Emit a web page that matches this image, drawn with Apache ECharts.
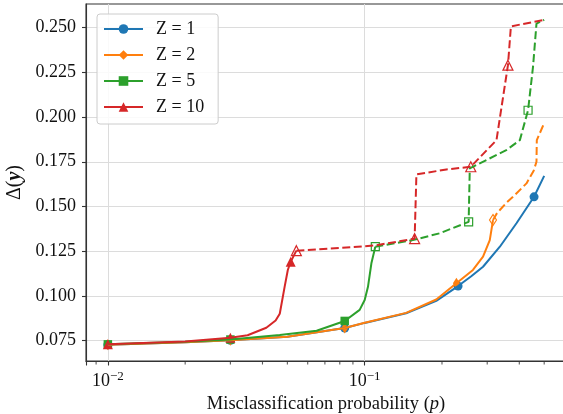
<!DOCTYPE html>
<html>
<head>
<meta charset="utf-8">
<script src="https://cdn.jsdelivr.net/npm/echarts@6/dist/echarts.min.js"></script>
<style>
  html, body { margin: 0; padding: 0; background: #fff; }
  #chart { width: 563px; height: 414px; }
</style>
</head>
<body>
<div id="chart"></div>
<script>
// axis ranges and tick values
var X_MIN = 0.00822, X_MAX = 0.608;
var Y_MIN = 0.0636, Y_MAX = 0.2632;
var Y_TICKS = [0.075, 0.100, 0.125, 0.150, 0.175, 0.200, 0.225, 0.250];
var X_MINOR = [0.009, 0.02, 0.03, 0.04, 0.05, 0.06, 0.07, 0.08, 0.09,
               0.2, 0.3, 0.4, 0.5, 0.6];

var names = ['Z = 1', 'Z = 2', 'Z = 5', 'Z = 10'];
var colors = ['#1f77b4', '#ff7f0e', '#2ca02c', '#d62728'];

// Z = 1
var p1 = [0.01, 0.02, 0.03, 0.05, 0.0836, 0.1, 0.145, 0.19, 0.231, 0.26, 0.289, 0.336, 0.39, 0.4566, 0.5];
var d1 = [0.0727, 0.0741, 0.0752, 0.0772, 0.0820, 0.0849, 0.0903, 0.0972, 0.1055, 0.1110, 0.1163, 0.1275, 0.1406, 0.1554, 0.1671];
var p1dash = [];
var d1dash = [];
var p1mk = [0.01, 0.03, 0.0836, 0.231, 0.4566];
var d1mk = [0.0727, 0.0752, 0.0820, 0.1055, 0.1554];
var p1open = [];
var d1open = [];

// Z = 2
var p2 = [0.01, 0.02, 0.03, 0.05, 0.0836, 0.1, 0.145, 0.19, 0.2276, 0.264, 0.289, 0.307, 0.316];
var d2 = [0.0727, 0.0741, 0.0752, 0.0772, 0.0820, 0.0850, 0.0905, 0.0980, 0.1071, 0.1145, 0.1219, 0.1312, 0.1424];
var p2dash = [0.316, 0.326, 0.336, 0.356, 0.378, 0.4266, 0.455, 0.4666, 0.468, 0.5];
var d2dash = [0.1424, 0.1458, 0.1480, 0.1520, 0.1554, 0.1629, 0.1700, 0.1750, 0.1871, 0.1966];
var p2mk = [0.01, 0.03, 0.0836, 0.2276];
var d2mk = [0.0727, 0.0752, 0.0820, 0.1071];
var p2open = [0.316];
var d2open = [0.1424];

// Z = 5
var p3 = [0.01, 0.02, 0.03, 0.0467, 0.065, 0.0836, 0.0956, 0.1, 0.103, 0.1062, 0.110];
var d3 = [0.0729, 0.0743, 0.0756, 0.0782, 0.0805, 0.0860, 0.0922, 0.0977, 0.1051, 0.1182, 0.1275];
var p3dash = [0.110, 0.154, 0.196, 0.254, 0.2566, 0.2806, 0.356, 0.402, 0.4327, 0.4523, 0.4666, 0.5];
var d3dash = [0.1275, 0.1312, 0.1350, 0.1414, 0.1713, 0.1741, 0.1815, 0.1871, 0.2038, 0.2280, 0.2522, 0.2543];
var p3mk = [0.01, 0.03, 0.0836];
var d3mk = [0.0729, 0.0756, 0.0860];
var p3open = [0.110, 0.254, 0.4327];
var d3open = [0.1275, 0.1414, 0.2038];

// Z = 10
var p4 = [0.01, 0.02, 0.03, 0.035, 0.0414, 0.045, 0.0467, 0.0488, 0.0502, 0.0515, 0.0542];
var d4 = [0.0729, 0.0745, 0.0766, 0.0780, 0.0822, 0.0862, 0.0900, 0.1052, 0.1145, 0.1191, 0.1253];
var p4dash = [0.0542, 0.08, 0.110, 0.1565, 0.159, 0.159, 0.208, 0.2589, 0.326, 0.3613, 0.371, 0.5];
var d4dash = [0.1253, 0.1268, 0.1282, 0.1320, 0.1322, 0.1679, 0.1707, 0.1722, 0.1871, 0.2290, 0.2507, 0.2543];
var p4mk = [0.01, 0.03, 0.0515];
var d4mk = [0.0729, 0.0766, 0.1191];
var p4open = [0.0542, 0.1565, 0.2589, 0.3613];
var d4open = [0.1253, 0.1320, 0.1722, 0.2290];

var FONT = 'Liberation Serif';
var TXT = '#111';
var AXIS = '#333';
var GRID = '#dcdcdc';

function pairs(xs, ys) {
    return xs.map(function (x, i) { return [x, ys[i]]; });
}

var symbols = ['circle', 'path://M0,-10L6,0L0,10L-6,0Z', 'rect', 'triangle'];
var symSizes = [9, [7, 11], 8.5, 10];
var openSizes = [9, [7, 11], 8, 10];

var allP = [p1, p2, p3, p4], allD = [d1, d2, d3, d4];
var allPd = [p1dash, p2dash, p3dash, p4dash], allDd = [d1dash, d2dash, d3dash, d4dash];
var allPm = [p1mk, p2mk, p3mk, p4mk], allDm = [d1mk, d2mk, d3mk, d4mk];
var allPo = [p1open, p2open, p3open, p4open], allDo = [d1open, d2open, d3open, d4open];

var series = [];
for (var k = 0; k < 4; k++) {
    var c = colors[k];
    series.push({
        name: names[k], type: 'line', data: pairs(allP[k], allD[k]),
        symbol: symbols[k], symbolSize: 9, showSymbol: false, symbolKeepAspect: true,
        itemStyle: { color: c },
        lineStyle: { color: c, width: 2 },
        animation: false
    });
    if (allPd[k].length) {
        series.push({
            name: names[k] + ' dashed', type: 'line', data: pairs(allPd[k], allDd[k]),
            showSymbol: false, symbol: 'none',
            lineStyle: { color: c, width: 2, type: [8, 3.5] },
            animation: false
        });
    }
    series.push({
        name: names[k] + ' markers', type: 'scatter', data: pairs(allPm[k], allDm[k]),
        symbol: symbols[k], symbolSize: symSizes[k],
        itemStyle: { color: c, opacity: 1 },
        animation: false
    });
    if (allPo[k].length) {
        series.push({
            name: names[k] + ' open', type: 'scatter', data: pairs(allPo[k], allDo[k]),
            symbol: symbols[k], symbolSize: openSizes[k],
            itemStyle: { color: 'rgba(255,255,255,0)', borderColor: c, borderWidth: 1.2, opacity: 1 },
            animation: false
        });
    }
}

// minor ticks of the log axis
series.push({
    name: 'minor ticks', type: 'scatter',
    data: X_MINOR.map(function (v) { return [v, Y_MIN]; }),
    symbol: 'rect', symbolSize: [1.1, 3], symbolOffset: [0, 2],
    itemStyle: { color: AXIS }, clip: false, silent: true, animation: false
});

var chart = echarts.init(document.getElementById('chart'), null, { renderer: 'canvas' });
chart.setOption({
    backgroundColor: '#fff',
    animation: false,
    grid: {
        left: 86, top: 4, width: 480, height: 357,
        show: true, borderColor: AXIS, borderWidth: 1.1, backgroundColor: 'transparent',
        outerBoundsMode: 'none'
    },
    legend: {
        data: names,
        orient: 'vertical', left: 97, top: 14,
        itemWidth: 39, itemHeight: 12, itemGap: 6,
        padding: [5, 14, 7, 6],
        backgroundColor: 'rgba(255,255,255,0.85)',
        borderColor: '#cccccc', borderWidth: 1, borderRadius: 3,
        textStyle: { fontFamily: FONT, fontSize: 18, color: TXT, lineHeight: 20, padding: [0, 0, 0, 8] },
        selectedMode: false
    },
    xAxis: {
        type: 'log', logBase: 10, min: X_MIN, max: X_MAX,
        axisLine: { show: true, lineStyle: { color: AXIS, width: 1.1 } },
        axisTick: { show: true, length: 4.5, lineStyle: { color: AXIS, width: 1.1 } },
        minorTick: { show: false },
        splitLine: { show: true, lineStyle: { color: GRID, width: 1 } },
        axisLabel: {
            margin: 9, color: TXT, fontFamily: FONT,
            showMinLabel: true, showMaxLabel: true,
            formatter: function (v) {
                var e = Math.log10(v), r = Math.round(e);
                if (Math.abs(e - r) > 1e-6) return '';
                return '{b|10}{s|' + (r < 0 ? '\u2212' : '') + Math.abs(r) + '}';
            },
            rich: {
                b: { fontFamily: FONT, fontSize: 18, lineHeight: 22, color: TXT },
                s: { fontFamily: FONT, fontSize: 13, lineHeight: 13, verticalAlign: 'top', color: TXT }
            }
        },
        name: 'Misclassification probability ({i|p})',
        nameLocation: 'middle', nameGap: 30,
        nameTextStyle: {
            fontFamily: FONT, fontSize: 18.5, color: TXT,
            rich: { i: { fontFamily: FONT, fontSize: 18.5, fontStyle: 'italic', color: TXT } }
        }
    },
    yAxis: {
        type: 'value', min: Y_MIN, max: Y_MAX,
        axisLine: { show: true, lineStyle: { color: AXIS, width: 1.1 } },
        axisTick: { show: true, length: 4, customValues: Y_TICKS, lineStyle: { color: AXIS, width: 1.1 } },
        splitLine: { show: true, lineStyle: { color: GRID, width: 1 } },
        axisLabel: {
            customValues: Y_TICKS, margin: 10, color: TXT, fontFamily: FONT, fontSize: 18,
            formatter: function (v) { return v.toFixed(3); }
        },
        name: '{n|\u0394(}{y|y}{n|)}',
        nameLocation: 'middle', nameRotate: 90, nameGap: 54,
        nameTextStyle: {
            rich: {
                n: { fontFamily: FONT, fontSize: 20, color: TXT },
                y: { fontFamily: FONT, fontSize: 20, fontStyle: 'italic', fontWeight: 'bold', color: TXT }
            }
        }
    },
    series: series
});
</script>
</body>
</html>
